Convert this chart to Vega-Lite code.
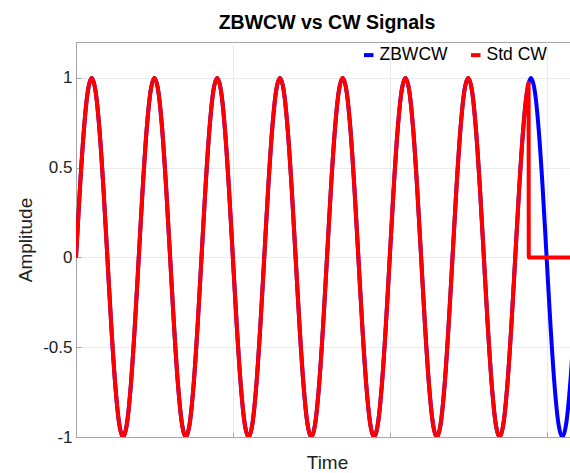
{
  "$schema": "https://vega.github.io/schema/vega-lite/v6.json",
  "width": 502,
  "height": 395,
  "autosize": {"type": "none"},
  "padding": {"left": 76, "top": 42, "right": 0, "bottom": 36},
  "background": "white",
  "title": {"text": "ZBWCW vs CW Signals", "fontSize": 19.5, "font": "Liberation Sans", "fontWeight": "bold", "offset": 9, "anchor": "middle", "color": "black"},
  "config": {
    "view": {"stroke": "#a6a6a6", "strokeWidth": 1},
    "axis": {"domainColor": "#a6a6a6", "tickColor": "#a6a6a6", "gridColor": "#ebebeb", "labelFont": "Liberation Sans", "titleFont": "Liberation Sans", "labelColor": "#222222", "titleColor": "#222222", "labelFontSize": 17, "titleFontSize": 19, "titleFontWeight": "normal"}
  },
  "datasets": {
    "zb": [
      {"t":0,"a":0},{"t":1,"a":0.383},{"t":2,"a":0.707},{"t":3,"a":0.924},{"t":4,"a":1},{"t":5,"a":0.924},{"t":6,"a":0.707},{"t":7,"a":0.383},{"t":8,"a":0},{"t":9,"a":-0.383},{"t":10,"a":-0.707},{"t":11,"a":-0.924},{"t":12,"a":-1},{"t":13,"a":-0.924},{"t":14,"a":-0.707},{"t":15,"a":-0.383},
      {"t":16,"a":0},{"t":17,"a":0.383},{"t":18,"a":0.707},{"t":19,"a":0.924},{"t":20,"a":1},{"t":21,"a":0.924},{"t":22,"a":0.707},{"t":23,"a":0.383},{"t":24,"a":0},{"t":25,"a":-0.383},{"t":26,"a":-0.707},{"t":27,"a":-0.924},{"t":28,"a":-1},{"t":29,"a":-0.924},{"t":30,"a":-0.707},{"t":31,"a":-0.383},
      {"t":32,"a":0},{"t":33,"a":0.383},{"t":34,"a":0.707},{"t":35,"a":0.924},{"t":36,"a":1},{"t":37,"a":0.924},{"t":38,"a":0.707},{"t":39,"a":0.383},{"t":40,"a":0},{"t":41,"a":-0.383},{"t":42,"a":-0.707},{"t":43,"a":-0.924},{"t":44,"a":-1},{"t":45,"a":-0.924},{"t":46,"a":-0.707},{"t":47,"a":-0.383},
      {"t":48,"a":0},{"t":49,"a":0.383},{"t":50,"a":0.707},{"t":51,"a":0.924},{"t":52,"a":1},{"t":53,"a":0.924},{"t":54,"a":0.707},{"t":55,"a":0.383},{"t":56,"a":0},{"t":57,"a":-0.383},{"t":58,"a":-0.707},{"t":59,"a":-0.924},{"t":60,"a":-1},{"t":61,"a":-0.924},{"t":62,"a":-0.707},{"t":63,"a":-0.383},
      {"t":64,"a":0},{"t":65,"a":0.383},{"t":66,"a":0.707},{"t":67,"a":0.924},{"t":68,"a":1},{"t":69,"a":0.924},{"t":70,"a":0.707},{"t":71,"a":0.383},{"t":72,"a":0},{"t":73,"a":-0.383},{"t":74,"a":-0.707},{"t":75,"a":-0.924},{"t":76,"a":-1},{"t":77,"a":-0.924},{"t":78,"a":-0.707},{"t":79,"a":-0.383},
      {"t":80,"a":0},{"t":81,"a":0.383},{"t":82,"a":0.707},{"t":83,"a":0.924},{"t":84,"a":1},{"t":85,"a":0.924},{"t":86,"a":0.707},{"t":87,"a":0.383},{"t":88,"a":0},{"t":89,"a":-0.383},{"t":90,"a":-0.707},{"t":91,"a":-0.924},{"t":92,"a":-1},{"t":93,"a":-0.924},{"t":94,"a":-0.707},{"t":95,"a":-0.383},
      {"t":96,"a":0},{"t":97,"a":0.383},{"t":98,"a":0.707},{"t":99,"a":0.924},{"t":100,"a":1},{"t":101,"a":0.924},{"t":102,"a":0.707},{"t":103,"a":0.383},{"t":104,"a":0},{"t":105,"a":-0.383},{"t":106,"a":-0.707},{"t":107,"a":-0.924},{"t":108,"a":-1},{"t":109,"a":-0.924},{"t":110,"a":-0.707},{"t":111,"a":-0.383},
      {"t":112,"a":0},{"t":113,"a":0.383},{"t":114,"a":0.707},{"t":115,"a":0.924},{"t":116,"a":1},{"t":117,"a":0.924},{"t":118,"a":0.707},{"t":119,"a":0.383},{"t":120,"a":0},{"t":121,"a":-0.383},{"t":122,"a":-0.707},{"t":123,"a":-0.924},{"t":124,"a":-1},{"t":125,"a":-0.924},{"t":126,"a":-0.707},{"t":127,"a":-0.383},
      {"t":128,"a":0}
    ],
    "cw": [
      {"t":0,"a":0},{"t":1,"a":0.383},{"t":2,"a":0.707},{"t":3,"a":0.924},{"t":4,"a":1},{"t":5,"a":0.924},{"t":6,"a":0.707},{"t":7,"a":0.383},{"t":8,"a":0},{"t":9,"a":-0.383},{"t":10,"a":-0.707},{"t":11,"a":-0.924},{"t":12,"a":-1},{"t":13,"a":-0.924},{"t":14,"a":-0.707},{"t":15,"a":-0.383},
      {"t":16,"a":0},{"t":17,"a":0.383},{"t":18,"a":0.707},{"t":19,"a":0.924},{"t":20,"a":1},{"t":21,"a":0.924},{"t":22,"a":0.707},{"t":23,"a":0.383},{"t":24,"a":0},{"t":25,"a":-0.383},{"t":26,"a":-0.707},{"t":27,"a":-0.924},{"t":28,"a":-1},{"t":29,"a":-0.924},{"t":30,"a":-0.707},{"t":31,"a":-0.383},
      {"t":32,"a":0},{"t":33,"a":0.383},{"t":34,"a":0.707},{"t":35,"a":0.924},{"t":36,"a":1},{"t":37,"a":0.924},{"t":38,"a":0.707},{"t":39,"a":0.383},{"t":40,"a":0},{"t":41,"a":-0.383},{"t":42,"a":-0.707},{"t":43,"a":-0.924},{"t":44,"a":-1},{"t":45,"a":-0.924},{"t":46,"a":-0.707},{"t":47,"a":-0.383},
      {"t":48,"a":0},{"t":49,"a":0.383},{"t":50,"a":0.707},{"t":51,"a":0.924},{"t":52,"a":1},{"t":53,"a":0.924},{"t":54,"a":0.707},{"t":55,"a":0.383},{"t":56,"a":0},{"t":57,"a":-0.383},{"t":58,"a":-0.707},{"t":59,"a":-0.924},{"t":60,"a":-1},{"t":61,"a":-0.924},{"t":62,"a":-0.707},{"t":63,"a":-0.383},
      {"t":64,"a":0},{"t":65,"a":0.383},{"t":66,"a":0.707},{"t":67,"a":0.924},{"t":68,"a":1},{"t":69,"a":0.924},{"t":70,"a":0.707},{"t":71,"a":0.383},{"t":72,"a":0},{"t":73,"a":-0.383},{"t":74,"a":-0.707},{"t":75,"a":-0.924},{"t":76,"a":-1},{"t":77,"a":-0.924},{"t":78,"a":-0.707},{"t":79,"a":-0.383},
      {"t":80,"a":0},{"t":81,"a":0.383},{"t":82,"a":0.707},{"t":83,"a":0.924},{"t":84,"a":1},{"t":85,"a":0.924},{"t":86,"a":0.707},{"t":87,"a":0.383},{"t":88,"a":0},{"t":89,"a":-0.383},{"t":90,"a":-0.707},{"t":91,"a":-0.924},{"t":92,"a":-1},{"t":93,"a":-0.924},{"t":94,"a":-0.707},{"t":95,"a":-0.383},
      {"t":96,"a":0},{"t":97,"a":0.383},{"t":98,"a":0.707},{"t":99,"a":0.924},{"t":100,"a":1},{"t":101,"a":0.924},{"t":102,"a":0.707},{"t":103,"a":0.383},{"t":104,"a":0},{"t":105,"a":-0.383},{"t":106,"a":-0.707},{"t":107,"a":-0.924},{"t":108,"a":-1},{"t":109,"a":-0.924},{"t":110,"a":-0.707},{"t":111,"a":-0.383},
      {"t":112,"a":0},{"t":113,"a":0.383},{"t":114,"a":0.707},{"t":115,"a":0.924},{"t":115.4,"a":0.972},{"t":115.45,"a":0},{"t":128,"a":0}
    ]
  },
  "layer": [
    {
      "data": {"name": "zb"},
      "mark": {"type": "line", "interpolate": "monotone", "strokeWidth": 4, "clip": true},
      "encoding": {
        "x": {"field": "t", "type": "quantitative", "scale": {"domain": [0, 128], "nice": false, "zero": false},
              "axis": {"title": "Time", "values": [40, 80, 120], "labels": false, "grid": true, "tickSize": -5, "titlePadding": 16, "domain": true}},
        "y": {"field": "a", "type": "quantitative", "scale": {"domain": [-1, 1.2], "nice": false},
              "axis": {"title": "Amplitude", "values": [-1, -0.5, 0, 0.5, 1], "labelExpr": "'' + datum.value", "grid": true, "tickSize": -5, "labelPadding": 9, "titlePadding": 7}},
        "color": {"datum": "ZBWCW", "type": "nominal",
                  "scale": {"domain": ["ZBWCW", "Std CW"], "range": ["#0000ff", "#ff0000"]},
                  "legend": {"orient": "none", "legendX": 284, "legendY": 4, "direction": "horizontal", "title": null, "symbolType": "stroke", "symbolStrokeWidth": 4, "symbolSize": 90, "labelFontSize": 17.5, "labelFont": "Liberation Sans", "labelColor": "black", "columnPadding": 15, "labelOffset": 2}}
      }
    },
    {
      "data": {"name": "cw"},
      "mark": {"type": "line", "interpolate": "monotone", "strokeWidth": 4, "clip": true},
      "encoding": {
        "x": {"field": "t", "type": "quantitative"},
        "y": {"field": "a", "type": "quantitative"},
        "color": {"datum": "Std CW", "type": "nominal"}
      }
    }
  ]
}
